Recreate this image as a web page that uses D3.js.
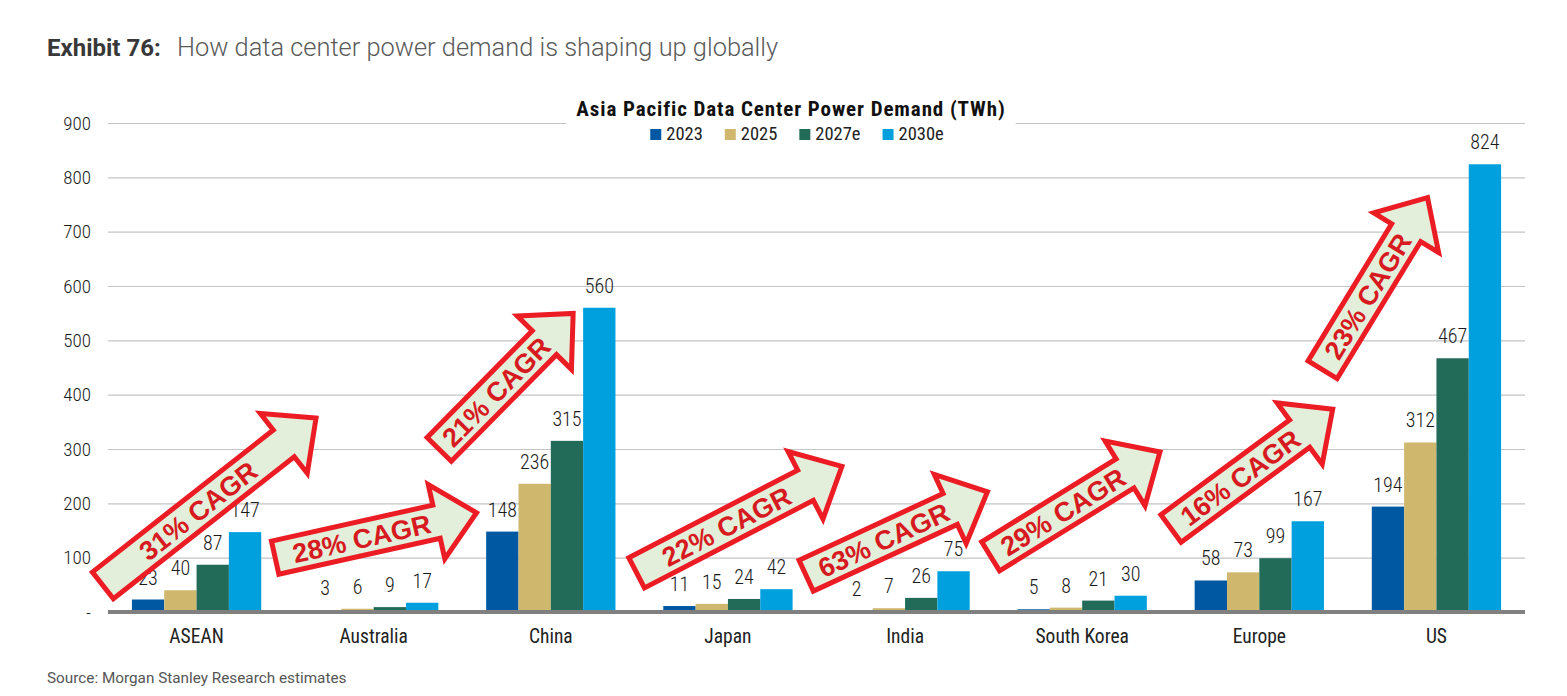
<!DOCTYPE html>
<html>
<head>
<meta charset="utf-8">
<script src="https://cdn.jsdelivr.net/npm/d3@7"></script>
<style>
  body { margin: 0; background: #fff; }
  .narrow { font-family: "Roboto Condensed", "Liberation Sans Narrow", "Arial Narrow", "DejaVu Sans Condensed", sans-serif; }
</style>
</head>
<body>
<svg id="chart" width="1567" height="696"></svg>

<script>
    // data
    const categories = ["ASEAN", "Australia", "China", "Japan", "India", "South Korea", "Europe", "US"];
    const seriesNames = ["2023", "2025", "2027e", "2030e"];
    const v2023 = [23, 3, 148, 11, 2, 5, 58, 194];
    const v2025 = [40, 6, 236, 15, 7, 8, 73, 312];
    const v2027e = [87, 9, 315, 24, 26, 21, 99, 467];
    const v2030e = [147, 17, 560, 42, 75, 30, 167, 824];
    const yTicks = [0, 100, 200, 300, 400, 500, 600, 700, 800, 900];
    const colors = ["#0058a2", "#cfb86e", "#226b59", "#00a0df"];

    // CAGR arrows: tail and tip given as [category units, value]
    const cagrLabels = ["31% CAGR", "28% CAGR", "21% CAGR", "22% CAGR", "63% CAGR", "29% CAGR", "16% CAGR", "23% CAGR"];
    const cagrTail = [[-0.04, 46], [0.93, 99], [1.86, 296], [2.972, 70], [3.929, 65], [4.971, 100], [5.99, 151], [6.85, 442]];
    const cagrTip = [[1.19, 361], [2.1, 184], [2.64, 554], [4.161, 271], [4.983, 224], [5.956, 298], [6.93, 377], [7.46, 768]];

    const series = [v2023, v2025, v2027e, v2030e];

    const svg = d3.select("#chart");
    const margin = {left: 108, right: 42, top: 123, bottom: 84};
    const W = +svg.attr("width"), H = +svg.attr("height");
    const plotW = W - margin.left - margin.right;
    const plotH = H - margin.top - margin.bottom;

    const g = svg.append("g").attr("transform", `translate(${margin.left},${margin.top})`);

    const y = d3.scaleLinear().domain([0, 900]).range([plotH, 0]);
    const x0 = d3.scaleBand().domain(categories).range([0, plotW]).paddingInner(0.27).paddingOuter(0.135);
    const x1 = d3.scaleBand().domain(seriesNames).range([0, x0.bandwidth()]);
    const xc = d3.scaleLinear().domain([0, categories.length]).range([0, plotW]);

    // header
    svg.append("text").attr("x", 47).attr("y", 56)
        .style("font-family", "Roboto, sans-serif").style("font-size", "24px")
        .attr("font-weight", "bold").attr("fill", "#383838").text("Exhibit 76:");
    svg.append("text").attr("x", 177).attr("y", 56)
        .style("font-family", "Roboto, sans-serif").style("font-size", "25.4px")
        .attr("font-weight", 300).attr("fill", "#5a5a5a")
        .text("How data center power demand is shaping up globally");

    svg.append("text").attr("x", 47).attr("y", 683)
        .style("font-family", "Roboto, sans-serif").style("font-size", "15.3px")
        .attr("fill", "#555").text("Source: Morgan Stanley Research estimates");

    // y axis + grid
    const yAxis = g.append("g")
        .call(d3.axisLeft(y).tickValues(yTicks).tickSize(-plotW).tickPadding(17)
            .tickFormat(d => d === 0 ? "-" : d));
    yAxis.select(".domain").remove();
    yAxis.selectAll(".tick line").attr("stroke", "#c4c4c4").attr("stroke-width", 1.2);
    yAxis.selectAll(".tick text").attr("class", "narrow").style("font-size", "19px")
        .attr("font-weight", 300).attr("fill", "#1a1a1a");

    // chart title with white box cutting the top gridline
    const cx = 791;
    const titleBox = svg.append("rect").attr("fill", "#fff");
    const title = svg.append("text").attr("class", "narrow").attr("x", cx).attr("y", 116)
        .attr("text-anchor", "middle").attr("font-weight", "bold").style("font-size", "21px")
        .style("letter-spacing", "0.9px")
        .attr("fill", "#111").text("Asia Pacific Data Center Power Demand (TWh)");
    const tw = title.node().getComputedTextLength();
    titleBox.attr("x", cx - tw / 2 - 10).attr("y", 96).attr("width", tw + 20).attr("height", 48);

    // legend
    const legend = svg.append("g");
    let lx = 0;
    seriesNames.forEach((s, i) => {
        const it = legend.append("g").attr("transform", `translate(${lx},0)`);
        it.append("rect").attr("x", 0).attr("y", -11).attr("width", 11).attr("height", 11).attr("fill", colors[i]);
        const t = it.append("text").attr("class", "narrow").attr("x", 16).attr("y", 0)
            .style("font-size", "18.5px").attr("fill", "#222").text(s);
        lx += 16 + t.node().getComputedTextLength() + 22;
    });
    legend.attr("transform", `translate(${cx + 6 - (lx - 22) / 2},140)`);

    // bars
    const groups = g.selectAll(".grp").data(categories).join("g")
        .attr("transform", d => `translate(${x0(d)},0)`);
    seriesNames.forEach((s, si) => {
        groups.append("rect")
            .attr("x", x1(s))
            .attr("y", (d, ci) => y(series[si][ci]))
            .attr("width", x1.bandwidth())
            .attr("height", (d, ci) => y(0) - y(series[si][ci]))
            .attr("fill", colors[si]);
        groups.append("text").attr("class", "narrow")
            .attr("x", x1(s) + x1.bandwidth() / 2)
            .attr("y", (d, ci) => y(series[si][ci]) - 15)
            .attr("text-anchor", "middle").style("font-size", "20px").attr("font-weight", 300)
            .attr("fill", "#1a1a1a")
            .text((d, ci) => series[si][ci]);
    });

    // baseline
    g.append("line").attr("x1", 0).attr("x2", plotW).attr("y1", y(0)).attr("y2", y(0))
        .attr("stroke", "#808080").attr("stroke-width", 4);

    // category labels
    g.selectAll(".cat").data(categories).join("text").attr("class", "narrow")
        .attr("x", d => x0(d) + x0.bandwidth() / 2).attr("y", plotH + 31)
        .attr("text-anchor", "middle").style("font-size", "19.5px").attr("fill", "#222")
        .text(d => d);

    // arrows (outer corners were measured, so pull the outline in by the stroke)
    const shaftW = 34, headW = 76, headL = 41, sw = 5;
    cagrLabels.forEach((lab, i) => {
        let tx = xc(cagrTail[i][0]), ty = y(cagrTail[i][1]);
        const px = xc(cagrTip[i][0]), py = y(cagrTip[i][1]);
        const ang = Math.atan2(py - ty, px - tx);
        tx += Math.cos(ang) * sw / 2;
        ty += Math.sin(ang) * sw / 2;
        const L = Math.hypot(px - tx, py - ty) - sw * 0.7;
        const a = g.append("g").attr("transform", `translate(${tx},${ty}) rotate(${ang * 180 / Math.PI})`);
        const p = d3.path();
        p.moveTo(0, -shaftW / 2);
        p.lineTo(L - headL, -shaftW / 2);
        p.lineTo(L - headL, -headW / 2);
        p.lineTo(L, 0);
        p.lineTo(L - headL, headW / 2);
        p.lineTo(L - headL, shaftW / 2);
        p.lineTo(0, shaftW / 2);
        p.closePath();
        a.append("path").attr("d", p.toString())
            .attr("fill", "#e3efda").attr("stroke", "#ec1c24").attr("stroke-width", sw)
            .attr("stroke-linejoin", "miter");
        a.append("text").attr("x", (L - headL) / 2 + 6).attr("y", 0).attr("dy", "0.36em")
            .attr("text-anchor", "middle")
            .style("font-family", "'Liberation Sans', Arial, sans-serif")
            .style("font-size", "27px").attr("font-weight", "bold").attr("fill", "#d71920")
            .text(lab);
    });
</script>
</body>
</html>
